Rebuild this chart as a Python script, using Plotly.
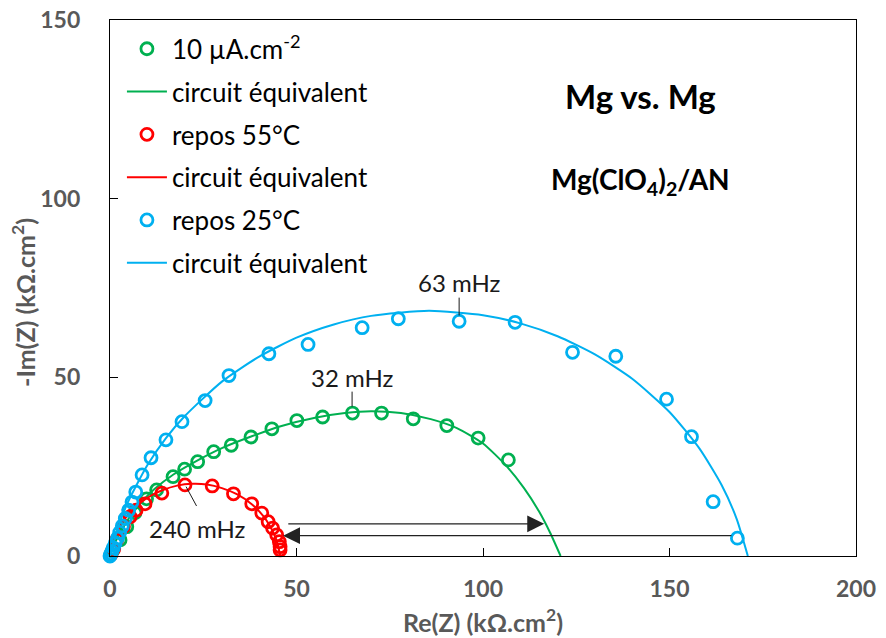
import plotly.graph_objects as go

# --- data (Nyquist plot, kOhm.cm2) ---
green_x = [0.8, 2.7, 4.5, 6.7, 9.8, 12.5, 16.9, 20.0, 23.5, 27.8, 32.5, 37.8, 43.4, 50.1, 57.0, 65.0,
           72.8, 81.3, 90.3, 98.7, 106.8]
green_y = [1.7, 4.5, 8.2, 12.1, 16.0, 18.5, 22.2, 24.3, 26.4, 29.2, 31.0, 33.3, 35.6, 37.9, 38.9, 40.0,
           40.0, 38.4, 36.5, 33.0, 26.9]
green_fit_x = [0, 1, 2.5, 5, 8, 12, 17, 23, 30, 38, 46, 55, 63, 70, 78, 86, 93, 100, 106, 111, 115, 118, 120.8]
green_fit_y = [0, 3.0, 6.0, 10.5, 14.5, 18.8, 22.8, 26.5, 30.2, 33.5, 36.4, 38.7, 40.0, 40.5, 40.0, 38.3,
               35.8, 31.5, 25.5, 19.0, 12.5, 6.5, 0]

red_x = [0.3, 1.0, 1.8, 3.6, 5.4, 7.0, 9.4, 13.9, 20.1, 27.4, 33.1, 38.0, 40.7, 42.4, 43.6, 44.7, 45.4,
         45.6, 45.6]
red_y = [0.5, 2.0, 4.5, 8.2, 11.0, 12.8, 14.6, 17.6, 19.9, 19.6, 17.4, 14.6, 12.0, 9.6, 7.8, 5.9, 4.0,
         2.6, 1.7]
red_fit_x = [0, 0.5, 1.5, 3, 5, 8, 11, 14, 18, 22, 26, 30, 34, 38, 41, 43, 44.5, 45.5, 45.6]
red_fit_y = [0, 2.7, 5.8, 8.9, 11.7, 14.8, 16.9, 18.4, 19.7, 20.2, 20.0, 19.0, 17.3, 14.5, 11.3, 8.2,
             4.8, 0.7, 0]

blue_x = [0.0, 0.2, 0.5, 0.9, 1.4, 2.0, 2.6, 3.3, 4.1, 5.0, 5.9, 6.9, 8.6, 11.0, 15.0, 19.3, 25.5, 31.9,
          42.6, 53.1, 67.6, 77.3, 93.6, 108.6, 124.0, 135.6, 149.2, 155.9, 161.7, 168.2]
blue_y = [0.0, 0.6, 1.3, 2.3, 3.6, 5.0, 6.6, 8.4, 10.5, 12.8, 15.1, 17.9, 22.7, 27.5, 32.5, 37.6, 43.5,
          50.5, 56.6, 59.2, 63.9, 66.4, 65.7, 65.4, 57.0, 55.9, 43.9, 33.4, 15.2, 5.0]
blue_fit_x = [0, 1, 2.5, 5, 10, 15, 20, 30, 40, 50, 60, 70, 85.5, 100, 110, 120, 130, 140, 150, 158,
              164, 168, 171]
blue_fit_y = [0, 4.0, 9.0, 15.5, 25.4, 33.0, 39.1, 48.8, 55.8, 61.1, 64.8, 67.2, 68.6, 67.4, 65.1, 61.5,
              56.4, 49.6, 40.3, 30.1, 19.8, 10.4, 0]

GREEN = "#00B050"
RED = "#FF0000"
BLUE = "#00B0F0"
GREY = "#595959"
FONT = "Lato"

fig = go.Figure()


def add_series(x, y, fx, fy, color, name, grp):
    fig.add_trace(go.Scatter(x=x, y=y, mode="markers", name=name, legendgroup=grp + "p",
                             cliponaxis=False,
                             marker=dict(symbol="circle-open", size=12, color=color,
                                         line=dict(width=2.8, color=color))))
    fig.add_trace(go.Scatter(x=fx, y=fy, mode="lines", name="circuit équivalent", legendgroup=grp + "l",
                             line=dict(color=color, width=2, shape="spline", smoothing=0.6)))


add_series(green_x, green_y, green_fit_x, green_fit_y, GREEN, "10 µA.cm<sup>-2</sup>", "g")
add_series(red_x, red_y, red_fit_x, red_fit_y, RED, "repos 55°C", "r")
add_series(blue_x, blue_y, blue_fit_x, blue_fit_y, BLUE, "repos 25°C", "b")

axis_common = dict(showline=True, linecolor="black", linewidth=1.3, mirror=True, showgrid=False,
                   zeroline=False, ticks="inside", ticklen=8, tickcolor="black",
                   ticklabeloverflow="allow", automargin=False,
                   tickfont=dict(family=FONT, size=23, color=GREY, weight="bold"))
title_font = dict(family=FONT, size=25, color=GREY, weight="bold")

fig.update_xaxes(range=[0, 200], dtick=50, ticklabelstandoff=12,
                 title=dict(text="Re(Z) (kΩ.cm<sup>2</sup>)", standoff=13, font=title_font), **axis_common)
fig.update_yaxes(range=[0, 150], dtick=50, ticklabelstandoff=24, **axis_common)

txt = dict(family=FONT, size=24, color="#1a1a1a")
big = dict(family=FONT, size=33, color="black", weight="bold")
annotations = [
    # y axis title, placed like the reference
    dict(x=-0.1153, y=0.474, xref="paper", yref="paper", xanchor="center", yanchor="middle",
         text="-Im(Z) (kΩ.cm<sup>2</sup>)", textangle=-90, showarrow=False, font=title_font),
    dict(x=93.6, y=76.5, text="63 mHz", showarrow=False, font=txt),
    dict(x=64.9, y=49.9, text="32 mHz", showarrow=False, font=txt),
    dict(x=23.2, y=7.8, text="240 mHz", showarrow=False, font=txt),
    dict(x=142.1, y=128.7, text="Mg vs. Mg", showarrow=False, font=big),
    dict(x=142.1, y=104.9, text="Mg(ClO<sub>4</sub>)<sub>2</sub>/AN", showarrow=False,
         font=dict(big, size=28)),
    # arrows showing the resistance shift
    dict(x=116.4, y=9.0, ax=47.4, ay=9.0, axref="x", ayref="y", text="", showarrow=True,
         arrowhead=2, arrowsize=2.6, arrowwidth=1.3, arrowcolor="#222"),
    dict(x=46.4, y=5.7, ax=167.0, ay=5.7, axref="x", ayref="y", text="", showarrow=True,
         arrowhead=2, arrowsize=2.6, arrowwidth=1.3, arrowcolor="#222"),
]
for a in annotations:
    fig.add_annotation(**a)

leader = dict(color="#1a1a1a", width=1)
fig.add_shape(type="line", x0=93.6, y0=72.3, x1=93.6, y1=67.3, line=leader)
fig.add_shape(type="line", x0=64.9, y0=46.0, x1=64.9, y1=41.8, line=leader)
fig.add_shape(type="line", x0=20.4, y0=19.4, x1=23.2, y1=14.0, line=leader)

fig.update_layout(
    width=886, height=638,
    margin=dict(l=102, r=38, t=12, b=90),
    plot_bgcolor="white", paper_bgcolor="white",
    font=dict(family=FONT, color="black"),
    legend=dict(x=0.016, y=0.99, xanchor="left", yanchor="top", bgcolor="rgba(0,0,0,0)",
                font=dict(family=FONT, size=26, color="black"), tracegroupgap=6,
                traceorder="grouped", itemwidth=40),
)

fig.write_html("out.html")
